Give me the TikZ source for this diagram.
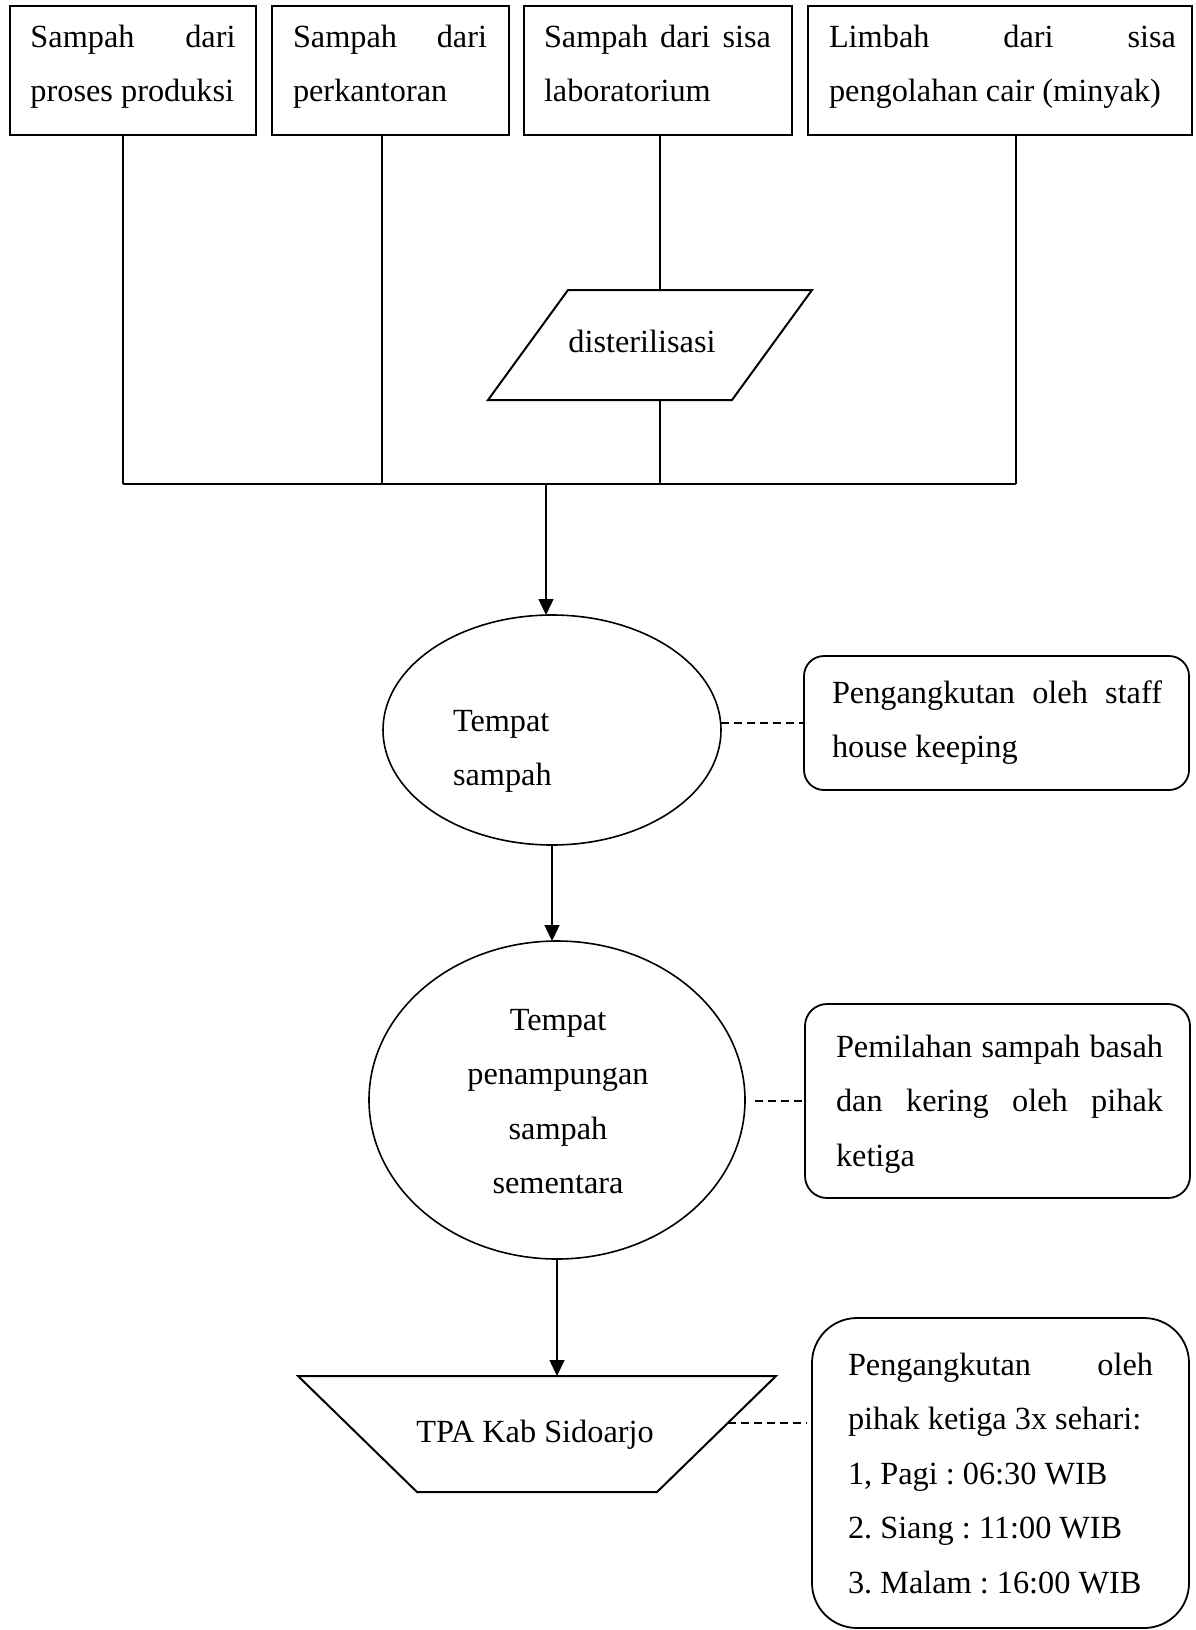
\documentclass[tikz,border=0pt]{standalone}
\usepackage{fontspec}
\setmainfont{Liberation Serif}
\usetikzlibrary{shapes.geometric,arrows.meta}
\newcommand\jline[2]{\makebox[#1][s]{#2}}
\frenchspacing
\begin{document}
\begin{tikzpicture}[x=1pt,y=-1pt,
  every node/.style={font=\fontsize{32.3}{54.5}\selectfont, inner sep=0pt, outer sep=0pt},
  sbox/.style={draw, line width=2.4pt, rectangle, anchor=north west},
  rbox/.style={draw, line width=1.8pt, rectangle, anchor=north west},
  ell/.style={draw, ellipse, line width=1.6pt},
  shp/.style={line width=2pt, line join=miter},
  conn/.style={line width=1.4pt},
  arr/.style={conn, -{Triangle[length=16pt,width=15pt]}},
  dline/.style={line width=1.4pt, dash pattern=on 8pt off 5pt},
  txt/.style={anchor=base west}]
\useasboundingbox (0,0) rectangle (1195,1630);
% top boxes
\node[sbox, minimum width=246pt, minimum height=129pt] (b1) at (10,6) {};
\node[sbox, minimum width=237pt, minimum height=129pt] (b2) at (272,6) {};
\node[sbox, minimum width=268pt, minimum height=129pt] (b3) at (524,6) {};
\node[sbox, minimum width=384pt, minimum height=129pt] (b4) at (808,6) {};
\node[txt] (t1) at (30.5,47) {\parbox[t]{205pt}{\jline{205pt}{Sampah dari}\\proses produksi}};
\node[txt] (t2) at (293,47) {\parbox[t]{194pt}{\jline{194pt}{Sampah dari}\\perkantoran}};
\node[txt] (t3) at (544,47) {\parbox[t]{227pt}{\jline{227pt}{Sampah dari sisa}\\laboratorium}};
\node[txt] (t4) at (829,47) {\parbox[t]{347pt}{\jline{347pt}{Limbah dari sisa}\\pengolahan cair (minyak)}};
% parallelogram
\coordinate (ptop) at (660,290);
\coordinate (pbot) at (660,400);
\draw[shp] (568,290) -- (812,290) -- (732,400) -- (488,400) -- cycle;
\node[anchor=base] (tp) at (642,352) {disterilisasi};
% junction
\coordinate (j1) at (123,484);
\coordinate (j2) at (382,484);
\coordinate (j3) at (660,484);
\coordinate (j4) at (1016,484);
\coordinate (hb) at (546,484);
\draw[conn] (b1.south -| j1) -- (j1);
\draw[conn] (b2.south -| j2) -- (j2);
\draw[conn] (b3.south -| ptop) -- (ptop);
\draw[conn] (pbot) -- (j3);
\draw[conn] (b4.south -| j4) -- (j4);
\draw[line width=2pt] (j1) -- (j4);
% ellipses
\node[ell, minimum width=338pt, minimum height=230pt] (e1) at (552,730) {};
\node[txt] (te1) at (453,731) {\parbox[t]{150pt}{Tempat\\sampah}};
\node[ell, minimum width=376pt, minimum height=318pt] (e2) at (557,1100) {};
\node[anchor=base] (te2) at (558,1030) {\parbox[t]{300pt}{\centering Tempat\\penampungan\\sampah\\sementara}};
% trapezoid
\coordinate (ttop) at (557,1376);
\draw[shp] (298,1376) -- (776,1376) -- (657,1492) -- (417,1492) -- cycle;
\node[anchor=base] (tt) at (535,1442) {TPA Kab Sidoarjo};
% arrows
\draw[arr] (hb) -- (hb |- e1.north);
\draw[arr] (e1.south) -- (e1.south |- e2.north);
\draw[arr] (e2.south -| ttop) -- (ttop);
% side boxes
\node[rbox, rounded corners=20pt, minimum width=385pt, minimum height=134pt] (b5) at (804,656) {};
\node[txt] (t5) at (832,703) {\parbox[t]{330pt}{\jline{330pt}{Pengangkutan oleh staff}\\house keeping}};
\node[rbox, rounded corners=22pt, minimum width=385pt, minimum height=194pt] (b6) at (805,1004) {};
\node[txt] (t6) at (836,1057) {\parbox[t]{327pt}{\jline{327pt}{Pemilahan sampah basah}\\\jline{327pt}{dan kering oleh pihak}\\ketiga}};
\node[rbox, rounded corners=45pt, minimum width=377pt, minimum height=310pt] (b7) at (812,1318) {};
\node[txt] (t7) at (848,1375) {\parbox[t]{305pt}{\jline{305pt}{Pengangkutan oleh}\\pihak ketiga 3x sehari:\\1, Pagi : 06:30 WIB\\2. Siang : 11:00 WIB\\3. Malam : 16:00 WIB}};
% dashed links
\coordinate (d2) at (755,1101);
\coordinate (d3) at (728,1423);
\draw[dline] (e1.east |- b5.west) -- (b5.west);
\draw[dline] (d2) -- (b6.west);
\draw[dline, shorten >=5pt] (d3) -- (d3 -| b7.west);
\end{tikzpicture}
\end{document}
